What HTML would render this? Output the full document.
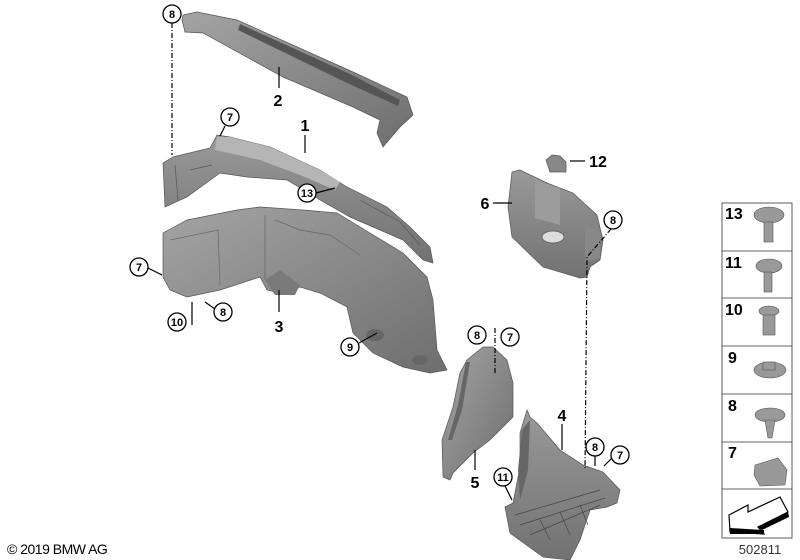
<!DOCTYPE html>
<html><head><meta charset="utf-8"><style>
html,body{margin:0;padding:0;background:#fff;}
svg{display:block;}
text{font-family:"Liberation Sans",sans-serif;}
</style></head><body>
<svg width="800" height="560" viewBox="0 0 800 560" xmlns="http://www.w3.org/2000/svg">
<defs>
<linearGradient id="g1" x1="0" y1="0" x2="1" y2="1"><stop offset="0" stop-color="#a4a4a4"/><stop offset="1" stop-color="#6e6e6e"/></linearGradient>
<linearGradient id="g2" x1="0" y1="0" x2="0" y2="1"><stop offset="0" stop-color="#999"/><stop offset="1" stop-color="#727272"/></linearGradient>
</defs>
<g stroke="#555" stroke-width="0.7">
<!-- part 2 -->
<polygon fill="url(#g1)" points="183,15 197,12 237,20 353,72 407,97 413,115 400,127 383,147 377,133 380,120 353,107 283,77 203,33 185,32 182,20"/>
<polygon fill="#555" stroke="none" points="240,24 350,74 400,100 398,106 345,82 238,30"/>
<!-- part 1 -->
<polygon fill="url(#g2)" points="163,163 173,157 210,148 217,135 230,137 270,147 320,170 347,187 387,207 410,227 430,247 433,263 423,260 403,240 373,227 350,217 320,200 287,180 247,177 220,173 187,197 165,207"/>
<polygon fill="#b5b5b5" stroke="none" points="217,137 230,137 270,147 320,170 340,182 335,190 300,175 260,160 215,150"/>
<path d="M175,165 L178,200 M190,170 L212,165 M360,200 L400,222 L420,245" stroke="#555" fill="none"/>
<!-- part 3 -->
<polygon fill="url(#g1)" points="163,233 187,220 237,210 260,207 303,210 337,213 370,233 403,253 427,277 433,300 437,350 447,370 430,373 403,367 373,353 353,333 347,307 320,293 300,287 280,293 267,290 260,277 220,290 187,297 170,290 163,277"/>
<path d="M170,240 L218,230 L220,285 M265,215 L265,280 M275,220 L300,230 L330,235 L360,255" stroke="#666" fill="none"/>
<polygon fill="#7a7a7a" stroke="none" points="265,280 280,270 300,285 295,295 275,295"/>
<ellipse cx="375" cy="335" rx="9" ry="6" fill="#666" stroke="none"/>
<ellipse cx="420" cy="360" rx="8" ry="5" fill="#666" stroke="none"/>
<!-- part 6 -->
<polygon fill="url(#g2)" points="512,172 520,170 547,183 573,193 597,215 603,240 600,260 590,267 587,277 580,278 543,267 512,237 508,207"/>
<polygon fill="#9c9c9c" stroke="none" points="535,180 560,188 560,225 535,218"/>
<polygon fill="#888" stroke="none" points="585,225 600,232 600,258 585,262"/>
<ellipse cx="553" cy="237" rx="11" ry="6" fill="#ddd" stroke="#555"/>
<polygon fill="#888" points="546,160 552,155 560,156 566,162 566,172 550,172"/>
<!-- part 5 -->
<polygon fill="url(#g1)" points="483,347 493,347 507,360 513,383 513,417 490,440 473,453 453,473 450,480 443,477 442,440 453,407 460,373 467,360"/>
<polygon fill="#666" stroke="none" points="466,362 470,362 462,410 452,440 448,440 458,405"/>
<!-- part 4 -->
<polygon fill="url(#g2)" points="527,410 530,417 537,423 560,450 583,465 603,472 620,490 617,503 607,507 590,510 580,540 570,560 543,557 510,533 505,507 513,503 520,467 520,433"/>
<polygon fill="#666" stroke="none" points="522,430 530,420 528,470 520,500 518,470"/>
<g stroke="#444" fill="none"><path d="M515,515 L600,490 M520,525 L605,498 M530,535 L600,505 M540,520 L550,540 M560,512 L570,535 M580,505 L588,525"/></g>
</g>
<!-- leader lines -->
<g stroke="#000" stroke-width="1.2" fill="none">
<line x1="172" y1="23" x2="172" y2="155" stroke-dasharray="5,2,1,2"/>
<line x1="279" y1="67" x2="279" y2="88"/>
<line x1="225" y1="126" x2="220" y2="136"/>
<line x1="305" y1="135" x2="305" y2="153"/>
<line x1="316" y1="193" x2="335" y2="188"/>
<line x1="148" y1="268" x2="162" y2="275"/>
<line x1="215" y1="309" x2="205" y2="302"/>
<line x1="192" y1="302" x2="192" y2="325"/>
<line x1="279" y1="290" x2="279" y2="312"/>
<line x1="359" y1="343" x2="377" y2="333"/>
<line x1="570" y1="161" x2="585" y2="161"/>
<line x1="493" y1="203" x2="512" y2="203"/>
<path d="M611,229 L587,257 L585,470" stroke-dasharray="5,2,1,2"/>
<line x1="495" y1="328" x2="495" y2="373" stroke-dasharray="5,2,1,2"/>
<line x1="475" y1="450" x2="475" y2="470"/>
<line x1="562" y1="424" x2="562" y2="450"/>
<line x1="595" y1="456" x2="595" y2="466"/>
<line x1="612" y1="458" x2="604" y2="466"/>
<line x1="505" y1="486" x2="512" y2="500"/>
</g>
<!-- callouts -->
<g fill="#fff" stroke="#000" stroke-width="1.3">
<circle cx="172" cy="14" r="9"/><circle cx="230" cy="117" r="9"/><circle cx="307" cy="193" r="9"/>
<circle cx="139" cy="267" r="9"/><circle cx="223" cy="312" r="9"/><circle cx="177" cy="322" r="9"/>
<circle cx="350" cy="347" r="9"/><circle cx="613" cy="220" r="9"/><circle cx="477" cy="335" r="9"/>
<circle cx="510" cy="337" r="9"/><circle cx="595" cy="447" r="9"/><circle cx="620" cy="455" r="9"/>
<circle cx="503" cy="477" r="9"/>
</g>
<g font-size="11" font-weight="bold" text-anchor="middle">
<text x="172" y="18">8</text><text x="230" y="121">7</text><text x="307" y="197">13</text>
<text x="139" y="271">7</text><text x="223" y="316">8</text><text x="177" y="326">10</text>
<text x="350" y="351">9</text><text x="613" y="224">8</text><text x="477" y="339">8</text>
<text x="510" y="341">7</text><text x="595" y="451">8</text><text x="620" y="459">7</text>
<text x="503" y="481">11</text>
</g>
<g font-size="16" font-weight="bold" text-anchor="middle">
<text x="278" y="106">2</text><text x="305" y="131">1</text><text x="279" y="332">3</text>
<text x="485" y="209">6</text><text x="598" y="167">12</text><text x="562" y="421">4</text><text x="475" y="488">5</text>
</g>
<!-- legend -->
<g stroke="#333" stroke-width="0.8" fill="#fff">
<rect x="722" y="203" width="70" height="335"/>
<line x1="722" y1="251" x2="792" y2="251"/><line x1="722" y1="298" x2="792" y2="298"/>
<line x1="722" y1="346" x2="792" y2="346"/><line x1="722" y1="394" x2="792" y2="394"/>
<line x1="722" y1="442" x2="792" y2="442"/><line x1="722" y1="489" x2="792" y2="489"/>
</g>
<g font-size="16" font-weight="bold">
<text x="725" y="219">13</text><text x="725" y="268">11</text><text x="725" y="315">10</text>
<text x="728" y="363">9</text><text x="728" y="411">8</text><text x="728" y="458">7</text>
</g>
<g fill="#999" stroke="#555" stroke-width="0.6">
<ellipse cx="769" cy="215" rx="15" ry="8"/><rect x="764" y="222" width="9" height="20"/>
<ellipse cx="769" cy="266" rx="13" ry="7"/><rect x="764" y="272" width="8" height="20"/>
<ellipse cx="769" cy="311" rx="10" ry="5"/><rect x="763" y="315" width="12" height="20"/>
<ellipse cx="770" cy="370" rx="16" ry="8"/><rect x="763" y="362" width="12" height="8"/>
<ellipse cx="770" cy="415" rx="15" ry="7"/><polygon points="765,420 775,420 772,438 768,438"/>
<polygon points="755,465 778,458 787,470 785,485 760,486 754,475"/>
</g>
<polygon points="729,515 748,505 748,512 780,497 788,512 758,527 764,534 730,532" fill="#fff" stroke="#000" stroke-width="1.2"/>
<polygon points="730,528 764,530 764,534 730,534" fill="#000"/>
<polygon points="758,527 788,512 789,517 762,530" fill="#000"/>
<text x="760" y="554" font-size="13" text-anchor="middle" fill="#333">502811</text>
<text x="7" y="554" font-size="14" fill="#000" letter-spacing="-0.5">© 2019 BMW AG</text>
</svg>
</body></html>
